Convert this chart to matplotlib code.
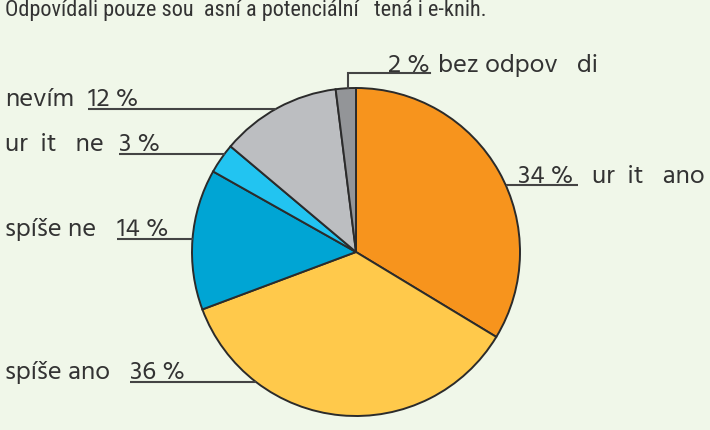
import numpy as np
import matplotlib
matplotlib.use('Agg')
import matplotlib.pyplot as plt

plt.rcParams['font.family'] = ['Hind', 'DejaVu Sans']

# data (clockwise from 12 o'clock); gaps are the glyphs missing in the original
names = ['ur  it   ano', 'spíše ano', 'spíše ne', 'ur  it   ne', 'nevím', 'bez odpov   di']
values = [34, 36, 14, 3, 12, 2]
colors = ['#F7941D', '#FFC94B', '#00A5D4', '#22C4F1', '#BCBEC1', '#939598']
title = 'Odpovídali pouze sou  asní a potenciální   tená i e-knih.'

W, H = 710, 431
bg = '#F0F7E9'
txt = '#333333'
lc = '#444444'

fig = plt.figure(figsize=(W / 100, H / 100), dpi=100, facecolor=bg)
ax = fig.add_axes([0, 0, 1, 1])
ax.set_facecolor(bg)
ax.set_xlim(0, W)
ax.set_ylim(H, 0)
ax.set_aspect('equal')
ax.axis('off')

cx, cy, r = 356, 253, 164

# y axis points down here, so counterclock=True + start -90 gives clockwise from the top
ax.pie(values, colors=colors, center=(cx, cy), radius=r, startangle=-90,
       counterclock=True, wedgeprops=dict(edgecolor='#2b2b2b', linewidth=1.4))
ax.set_xlim(0, W)
ax.set_ylim(H, 0)

fs = 19


def edge_x(y, side):
    return cx + side * np.sqrt(r ** 2 - (y - cy) ** 2)


# left labels: name at x=5, percent underlined, line runs to the pie edge
left = [  # (name index, percent x, underline y)
    (4, 88, 110),
    (3, 119, 155),
    (2, 117, 240),
    (1, 130, 383),
]
for i, px, uy in left:
    ax.text(5, uy - 4, names[i], fontsize=fs, color=txt, va='baseline', ha='left')
    ax.text(px, uy - 4, f'{values[i]} %', fontsize=fs, color=txt, va='baseline', ha='left')
    ax.plot([px, edge_x(uy, -1)], [uy, uy], color=lc, lw=1.5, solid_capstyle='butt')

# right label
uy = 186
ax.text(518, uy - 3, f'{values[0]} %', fontsize=fs, color=txt, va='baseline', ha='left')
ax.text(592, uy - 3, names[0], fontsize=fs, color=txt, va='baseline', ha='left')
ax.plot([edge_x(uy, 1), 578], [uy, uy], color=lc, lw=1.5, solid_capstyle='butt')

# top label
uy = 74
ax.text(388, uy - 2, f'{values[5]} %', fontsize=fs, color=txt, va='baseline', ha='left')
ax.text(438, uy - 2, names[5], fontsize=fs, color=txt, va='baseline', ha='left')
vx = 348
ax.plot([430, vx, vx], [uy, uy, cy - np.sqrt(r ** 2 - (vx - cx) ** 2)],
        color=lc, lw=1.5, solid_joinstyle='miter')

# title, cut at the top edge as in the original
ax.text(5, 16, title, fontsize=16, family=['Roboto Condensed', 'DejaVu Sans'],
        color=txt, va='baseline', ha='left')

fig.savefig('out.png', dpi=100, facecolor=bg)
